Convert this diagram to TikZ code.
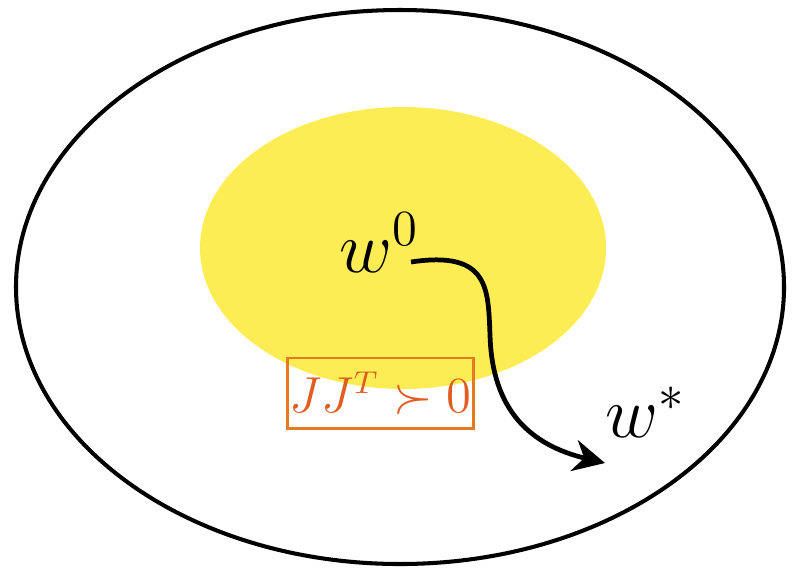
\documentclass[tikz,border=0pt]{standalone}
\usepackage{amsmath,amssymb}
\usetikzlibrary{arrows.meta,positioning,calc}
\usepackage{xcolor}
\definecolor{myyellow}{RGB}{253,237,84}
\definecolor{myorange}{RGB}{229,122,32}
\definecolor{myred}{RGB}{226,92,34}
\tikzset{
  region/.style={draw=black,line width=1.15pt},
  core/.style={fill=myyellow,draw=none},
  pt/.style={inner sep=0pt,font=\fontsize{21}{25}\selectfont},
  condbox/.style={draw=myorange,line width=0.85pt,minimum width=1.85cm,minimum height=0.7cm,inner sep=0pt,text=myred,font=\fontsize{13.5}{16}\selectfont},
}

\begin{document}
\begin{tikzpicture}[
    x=0.01cm,y=-0.01cm,
    flow/.style={line width=1.35pt,-{Stealth[length=9pt,width=9pt]}},
  ]
    \useasboundingbox (0,0) rectangle (792,569);

    %────────── REGIONS ────────────
    \fill[core] (403,248) ellipse [x radius=203,y radius=141];
    \draw[region] (400,287) ellipse [x radius=384,y radius=277];

    %────────── POINTS ─────────────
    \node[pt,anchor=base west] (w0) at (339,272) {$w^0$};
    \node[pt,anchor=base west] (wstar) at (605,437) {$w^*$};

    %────────── CONDITION ──────────
    \node[condbox] (cond) at (380.5,393) {$JJ^T \succ 0$};

    %────────── PATH ───────────────
    \coordinate (start) at (411,262);
    \coordinate (mid) at (490,335);
    \coordinate (stop) at (605,463);
    \draw[flow] (start) .. controls (490,250) and (488,290) .. (mid)
                .. controls (492,410) and (530,445) .. (stop);
  \end{tikzpicture}
\end{document}
